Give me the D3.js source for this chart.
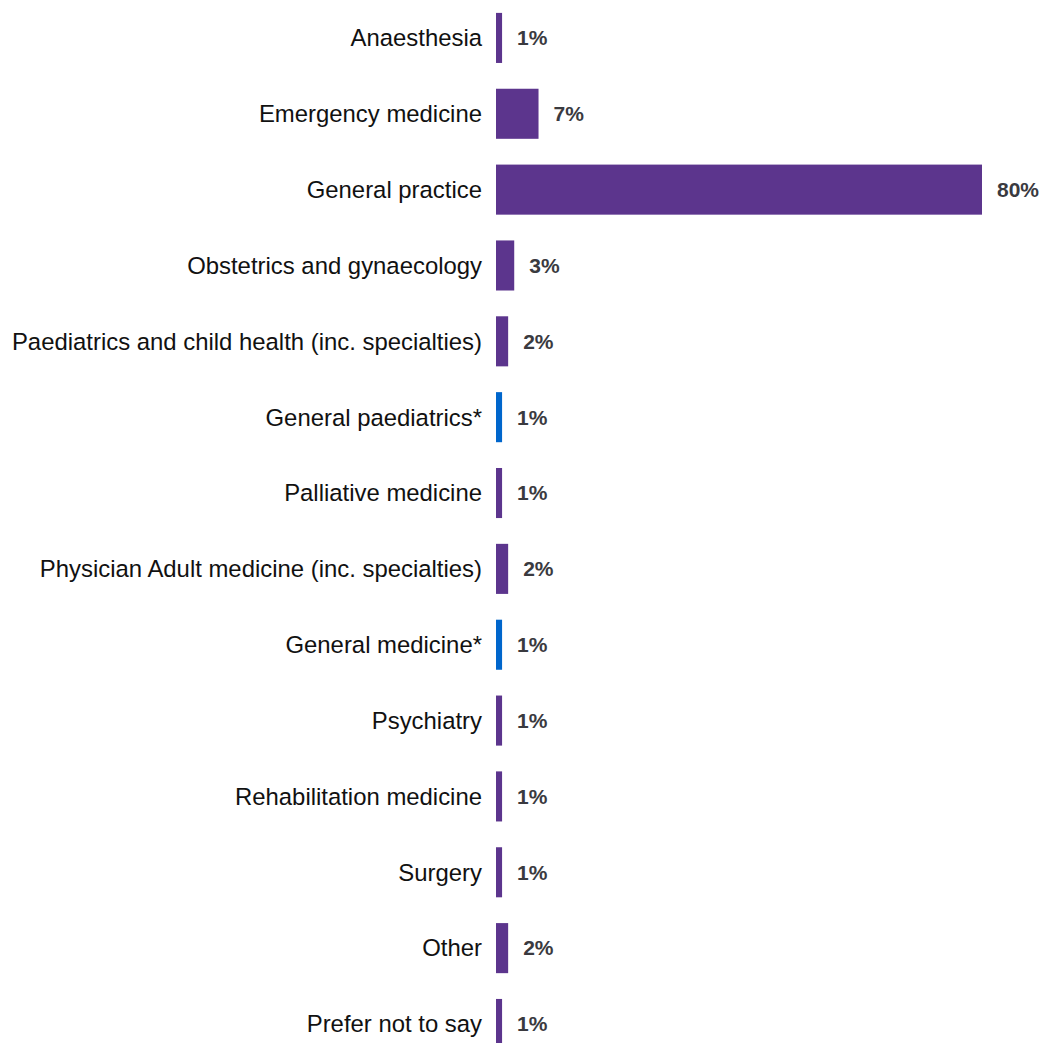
<!DOCTYPE html>
<html>
<head>
<meta charset="utf-8">
<script src="https://cdn.jsdelivr.net/npm/d3@7"></script>
<style>
  body { margin: 0; background: #fff; }
  svg { display: block; }
</style>
</head>
<body>
<div id="chart"></div>
<script>
var width = 1042;
var height = 1043;

var categories = [
    "Anaesthesia",
    "Emergency medicine",
    "General practice",
    "Obstetrics and gynaecology",
    "Paediatrics and child health (inc. specialties)",
    "General paediatrics*",
    "Palliative medicine",
    "Physician Adult medicine (inc. specialties)",
    "General medicine*",
    "Psychiatry",
    "Rehabilitation medicine",
    "Surgery",
    "Other",
    "Prefer not to say"
];
var values = [1, 7, 80, 3, 2, 1, 1, 2, 1, 1, 1, 1, 2, 1];
var subgroup = [false, false, false, false, false, true, false, false, true, false, false, false, false, false];

var root = d3.select("#chart").append("svg")
    .attr("width", width)
    .attr("height", height);

var x0 = 496;
var xScale = d3.scaleLinear()
        .domain([0, 80])
        .range([x0, 982]);

var yScale = d3.scaleBand()
        .domain(categories)
        .range([0, 75.85 * categories.length])
        .paddingInner(0.34)
        .paddingOuter(0.17);

var rows = root.selectAll("g.row")
        .data(categories)
    .enter()
        .append("g")
            .attr("class", "row");

rows.append("rect")
    .attr("x", xScale(0))
    .attr("y", function(d){return yScale(d);})
    .attr("width", function(d, i){return xScale(values[i]) - xScale(0);})
    .attr("height", yScale.bandwidth())
    .attr("fill", function(d, i){return subgroup[i] ? "#0066CC" : "#5C358D";});

// category labels
rows.append("text")
    .attr("x", x0 - 14)
    .attr("y", function(d){return yScale(d) + yScale.bandwidth() / 2;})
    .attr("dy", "0.35em")
    .attr("text-anchor", "end")
    .style("font-family", "'Liberation Sans', Arial, sans-serif")
    .style("font-size", "23.9px")
    .attr("fill", "#111")
    .text(function(d){return d;});

// value labels
rows.append("text")
    .attr("x", function(d, i){return xScale(values[i]) + 15;})
    .attr("y", function(d){return yScale(d) + yScale.bandwidth() / 2;})
    .attr("dy", "0.35em")
    .style("font-family", "'Liberation Sans', Arial, sans-serif")
    .style("font-size", "21px")
    .style("font-weight", "bold")
    .attr("fill", "#3a3a3f")
    .text(function(d, i){return values[i] + "%";});
</script>
</body>
</html>
